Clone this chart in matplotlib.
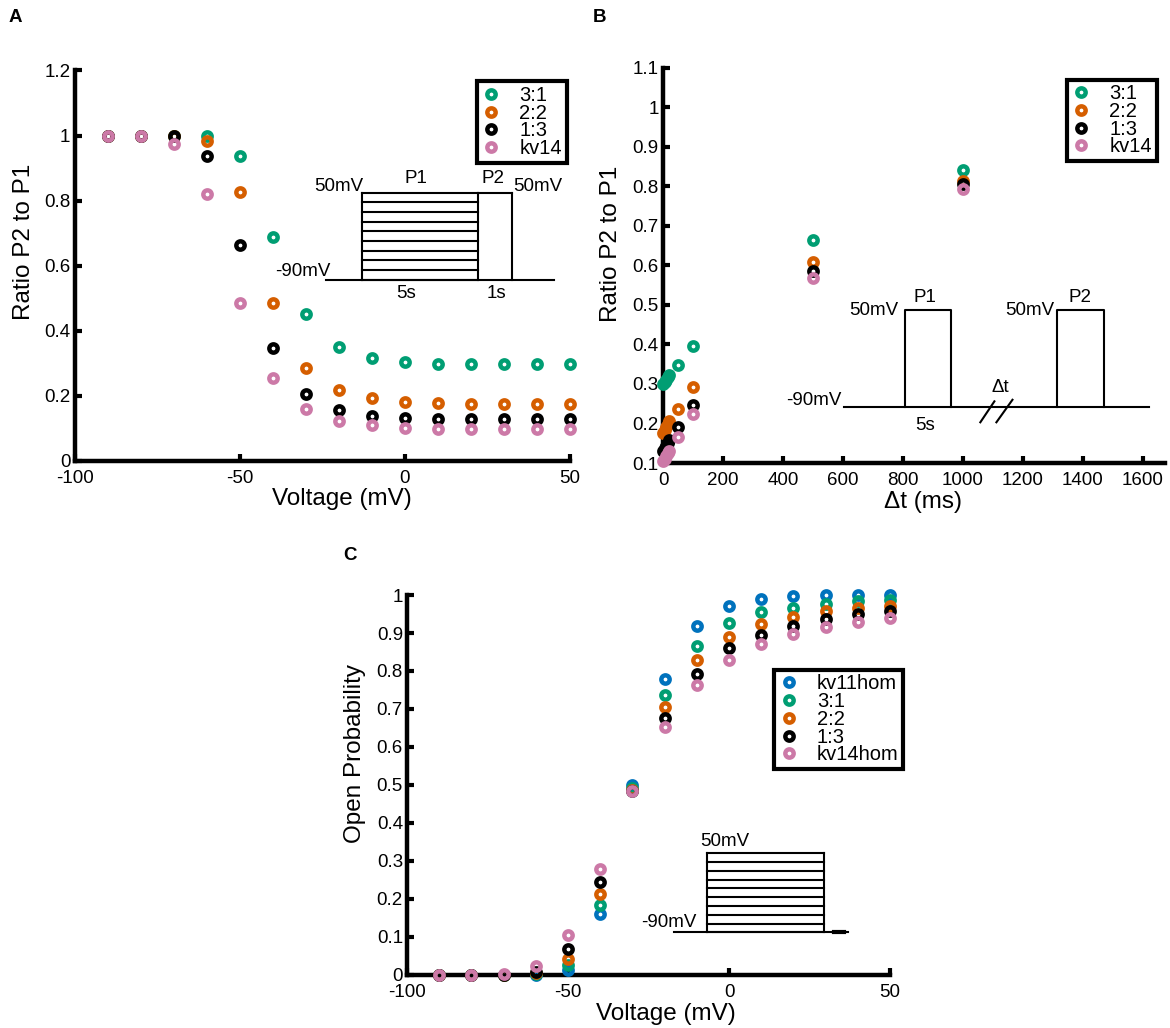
import matplotlib
matplotlib.use("Agg")

import matplotlib.pyplot as plt
from matplotlib.ticker import FuncFormatter
import numpy as np

plt.rcParams['font.family'] = ['Liberation Sans', 'DejaVu Sans']

# ---------- Data ----------
# panel A: P2/P1 ratio vs prepulse voltage
volt_a = [-90, -80, -70, -60, -50, -40, -30, -20, -10, 0, 10, 20, 30, 40, 50]
ratio_a_31 = [1.0, 1.0, 1.0, 1.0, 0.937, 0.688, 0.452, 0.351, 0.317, 0.304, 0.299, 0.298, 0.297, 0.297, 0.297]
ratio_a_22 = [1.0, 1.0, 0.998, 0.983, 0.825, 0.485, 0.287, 0.217, 0.192, 0.181, 0.178, 0.176, 0.176, 0.176, 0.176]
ratio_a_13 = [1.0, 1.0, 0.997, 0.936, 0.664, 0.346, 0.207, 0.158, 0.138, 0.131, 0.129, 0.128, 0.128, 0.128, 0.128]
ratio_a_14 = [1.0, 0.999, 0.973, 0.821, 0.485, 0.254, 0.160, 0.124, 0.109, 0.102, 0.099, 0.098, 0.097, 0.097, 0.097]

# panel B: recovery vs interval
dt_b = [1, 5, 10, 15, 20, 50, 100, 500, 1000]
ratio_b_31 = [0.300, 0.305, 0.311, 0.317, 0.322, 0.349, 0.395, 0.665, 0.841]
ratio_b_22 = [0.175, 0.183, 0.191, 0.199, 0.206, 0.237, 0.292, 0.609, 0.813]
ratio_b_13 = [0.130, 0.137, 0.143, 0.150, 0.157, 0.191, 0.248, 0.587, 0.806]
ratio_b_14 = [0.104, 0.111, 0.118, 0.125, 0.131, 0.166, 0.224, 0.568, 0.794]

# panel C: open probability vs voltage
volt_c = [-90, -80, -70, -60, -50, -40, -30, -20, -10, 0, 10, 20, 30, 40, 50]
po_kv11 = [0, 0, 0, 0.0, 0.013, 0.160, 0.500, 0.779, 0.918, 0.971, 0.989, 0.997, 1.0, 1.0, 1.0]
po_31 = [0, 0, 0, 0.002, 0.026, 0.184, 0.491, 0.736, 0.866, 0.926, 0.954, 0.967, 0.976, 0.984, 0.988]
po_22 = [0, 0, 0, 0.004, 0.041, 0.212, 0.487, 0.704, 0.828, 0.890, 0.925, 0.943, 0.957, 0.965, 0.971]
po_13 = [0, 0, 0.001, 0.009, 0.068, 0.244, 0.485, 0.677, 0.793, 0.860, 0.896, 0.919, 0.937, 0.950, 0.958]
po_14 = [0, 0, 0.003, 0.024, 0.104, 0.279, 0.483, 0.653, 0.763, 0.830, 0.871, 0.897, 0.915, 0.930, 0.940]

labels_ab = ["3:1", "2:2", "1:3", "kv14"]
labels_c = ["kv11hom", "3:1", "2:2", "1:3", "kv14hom"]

c_blue = "#0072BD"
c_green = "#009E73"
c_orange = "#D55E00"
c_black = "#000000"
c_pink = "#CC79A7"

# ---------- Helpers ----------
fmt = FuncFormatter(lambda v, p: "%g" % round(v, 6))


def style_axes(ax):
    for s in ["top", "right"]:
        ax.spines[s].set_visible(False)
    for s in ["left", "bottom"]:
        ax.spines[s].set_linewidth(3.2)
    ax.tick_params(direction="in", length=5, width=3, labelsize=13.5)
    ax.tick_params(axis="x", pad=6.5)
    ax.tick_params(axis="y", pad=3)
    ax.xaxis.set_major_formatter(fmt)
    ax.yaxis.set_major_formatter(fmt)


def rings(ax, x, y, color, label):
    ax.plot(x, y, "o", mfc="none", mec=color, ms=6, mew=3.2,
            clip_on=False, label=label, zorder=3)


def add_legend(ax, right, top):
    leg = ax.legend(loc="upper right", bbox_to_anchor=(right, top),
                    fontsize=14.5, frameon=True, fancybox=False,
                    edgecolor="black", framealpha=1, borderaxespad=0,
                    handlelength=1.0, handletextpad=0.9, labelspacing=-0.06,
                    borderpad=0.22)
    leg.get_frame().set_linewidth(3)
    return leg


def seg(ax, xs, ys, lw=1.5):
    ax.plot(xs, ys, color="black", lw=lw, transform=ax.transAxes, clip_on=False)


def itext(ax, x, y, s, ha="center", va="center"):
    ax.text(x, y, s, transform=ax.transAxes, fontsize=13.5, ha=ha, va=va)


fig = plt.figure(figsize=(11.7, 10.28), dpi=100)
ax_a = fig.add_axes([0.0637, 0.5516, 0.4235, 0.3799])
ax_b = fig.add_axes([0.5667, 0.5496, 0.4291, 0.3845])
ax_c = fig.add_axes([0.3479, 0.0516, 0.4128, 0.3696])

# ---------- Panel A ----------
style_axes(ax_a)
rings(ax_a, volt_a, ratio_a_31, c_green, labels_ab[0])
rings(ax_a, volt_a, ratio_a_22, c_orange, labels_ab[1])
rings(ax_a, volt_a, ratio_a_13, c_black, labels_ab[2])
rings(ax_a, volt_a, ratio_a_14, c_pink, labels_ab[3])
ax_a.set_xlim(-100, 50)
ax_a.set_ylim(0, 1.2)
ax_a.set_xticks([-100, -50, 0, 50])
ax_a.set_yticks(np.arange(0, 1.21, 0.2))
ax_a.set_xlabel("Voltage (mV)", fontsize=17.5)
ax_a.set_ylabel("Ratio P2 to P1", fontsize=17.5)
ax_a.xaxis.set_label_coords(0.539, -0.07)
ax_a.yaxis.set_label_coords(-0.08, 0.56)
add_legend(ax_a, 0.993, 0.972)

# inset protocol A
base, top = 0.464, 0.687
seg(ax_a, [0.508, 0.968], [base, base])
for yy in np.linspace(base, top, 10):
    seg(ax_a, [0.581, 0.815], [yy, yy])
seg(ax_a, [0.581, 0.581], [base, top])
seg(ax_a, [0.815, 0.815], [base, top])
seg(ax_a, [0.815, 0.882], [top, top])
seg(ax_a, [0.882, 0.882], [base, top])
itext(ax_a, 0.583, 0.703, "50mV", ha="right")
itext(ax_a, 0.690, 0.722, "P1")
itext(ax_a, 0.845, 0.722, "P2")
itext(ax_a, 0.886, 0.703, "50mV", ha="left")
itext(ax_a, 0.516, 0.485, "-90mV", ha="right")
itext(ax_a, 0.669, 0.43, "5s")
itext(ax_a, 0.852, 0.43, "1s")

# ---------- Panel B ----------
style_axes(ax_b)
rings(ax_b, dt_b, ratio_b_31, c_green, labels_ab[0])
rings(ax_b, dt_b, ratio_b_22, c_orange, labels_ab[1])
rings(ax_b, dt_b, ratio_b_13, c_black, labels_ab[2])
rings(ax_b, dt_b, ratio_b_14, c_pink, labels_ab[3])
ax_b.set_xlim(0, 1675)
ax_b.set_ylim(0.1, 1.1)
ax_b.set_xticks(np.arange(0, 1601, 200))
ax_b.set_yticks(np.arange(0.1, 1.11, 0.1))
ax_b.set_xlabel("\u0394t (ms)", fontsize=17.5)
ax_b.set_ylabel("Ratio P2 to P1", fontsize=17.5)
ax_b.xaxis.set_label_coords(0.518, -0.072)
ax_b.yaxis.set_label_coords(-0.082, 0.555)
add_legend(ax_b, 0.983, 0.970)

# inset protocol B
base, top = 0.142, 0.386
seg(ax_b, [0.360, 0.968], [base, base])
for x0, x1 in [(0.482, 0.574), (0.785, 0.878)]:
    seg(ax_b, [x0, x0, x1, x1], [base, top, top, base])
seg(ax_b, [0.632, 0.660], [0.103, 0.156])
seg(ax_b, [0.664, 0.696], [0.103, 0.160])
itext(ax_b, 0.469, 0.386, "50mV", ha="right")
itext(ax_b, 0.521, 0.418, "P1")
itext(ax_b, 0.779, 0.386, "50mV", ha="right")
itext(ax_b, 0.831, 0.418, "P2")
itext(ax_b, 0.356, 0.158, "-90mV", ha="right")
itext(ax_b, 0.521, 0.095, "5s")
itext(ax_b, 0.671, 0.19, "\u0394t")

# ---------- Panel C ----------
style_axes(ax_c)
rings(ax_c, volt_c, po_kv11, c_blue, labels_c[0])
rings(ax_c, volt_c, po_31, c_green, labels_c[1])
rings(ax_c, volt_c, po_22, c_orange, labels_c[2])
rings(ax_c, volt_c, po_13, c_black, labels_c[3])
rings(ax_c, volt_c, po_14, c_pink, labels_c[4])
ax_c.set_xlim(-100, 50)
ax_c.set_ylim(0, 1)
ax_c.set_xticks([-100, -50, 0, 50])
ax_c.set_yticks(np.arange(0, 1.01, 0.1))
ax_c.set_xlabel("Voltage (mV)", fontsize=17.5)
ax_c.set_ylabel("Open Probability", fontsize=17.5)
ax_c.xaxis.set_label_coords(0.536, -0.074)
ax_c.yaxis.set_label_coords(-0.086, 0.583)
add_legend(ax_c, 1.027, 0.803)

# inset protocol C
base, top = 0.112, 0.32
seg(ax_c, [0.552, 0.912], [base, base])
seg(ax_c, [0.885, 0.905], [base, base], lw=3)
for yy in np.linspace(base, top, 10):
    seg(ax_c, [0.622, 0.864], [yy, yy])
seg(ax_c, [0.622, 0.622], [base, top])
seg(ax_c, [0.864, 0.864], [base, top])
itext(ax_c, 0.657, 0.352, "50mV")
itext(ax_c, 0.6, 0.138, "-90mV", ha="right")

# ---------- Panel letters ----------
fig.text(15 / 1170, 1 - 18 / 1028, "A", fontsize=13.5, fontweight="bold", ha="center", va="center")
fig.text(600 / 1170, 1 - 18 / 1028, "B", fontsize=13.5, fontweight="bold", ha="center", va="center")
fig.text(350 / 1170, 1 - 555 / 1028, "C", fontsize=13.5, fontweight="bold", ha="center", va="center")

fig.savefig("out.png", dpi=100)
